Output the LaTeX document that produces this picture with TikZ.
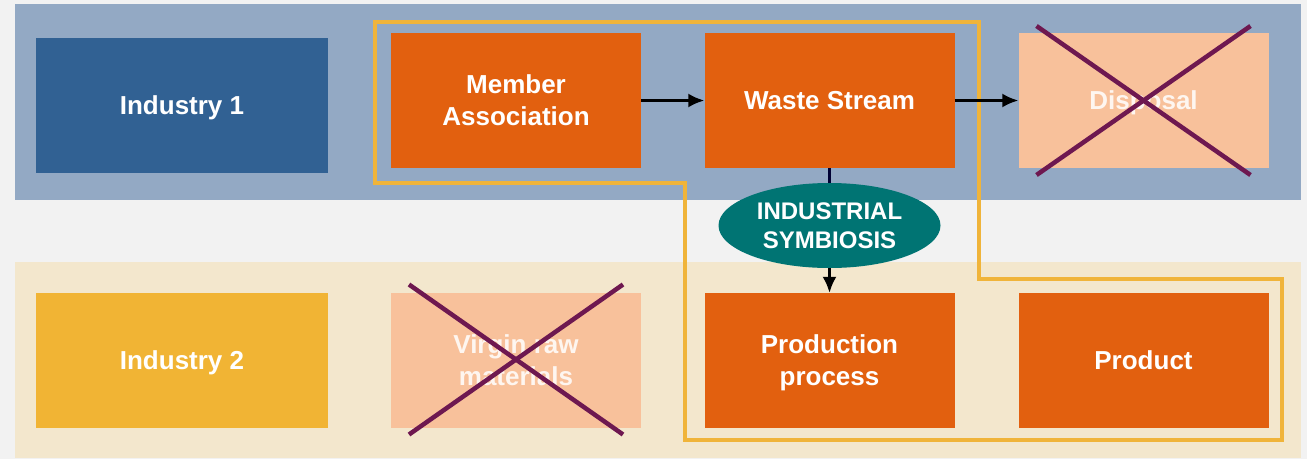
\documentclass[tikz,border=0pt]{standalone}
\usepackage{fontspec}
\setmainfont{Liberation Sans}
\usetikzlibrary{shapes.geometric,arrows.meta}

\definecolor{bandblue}{HTML}{93A9C4}
\definecolor{bandcream}{HTML}{F3E7CD}
\definecolor{indblue}{HTML}{316193}
\definecolor{indyellow}{HTML}{F1B434}
\definecolor{procorange}{HTML}{E2600F}
\definecolor{lostpeach}{HTML}{F8C19B}
\definecolor{symteal}{HTML}{007473}
\definecolor{loopyellow}{HTML}{F0B43A}
\definecolor{crossplum}{HTML}{6E1850}

\tikzset{
  box/.style={inner sep=0pt, minimum width=250pt, minimum height=135pt, text=white,
    text depth=0pt, align=center, font=\fontsize{26}{32}\selectfont\bfseries},
  flow/.style={line width=2.5pt, -{Latex[length=16pt,width=14pt]}},
  cross/.style={crossplum, line width=4.5pt}
}

\begin{document}
\begin{tikzpicture}[x=1pt,y=-1pt]
  \useasboundingbox[fill=black!5] (0,0) rectangle (1307,459);
  % bands
  \fill[bandblue] (15,4) rectangle (1301,200);
  \fill[bandcream] (15,262) rectangle (1301,458);
  % top row
  \node[box, fill=indblue, minimum width=292pt] (ind1) at (182,105.5) {Industry 1};
  \node[box, fill=procorange] (mem) at (516,100.5) {Member\\Association};
  \node[box, fill=procorange] (ws) at (829.5,100.5) {Waste Stream};
  \node[box, fill=lostpeach, text=white!85!lostpeach] (dis) at (1143.5,100.5) {Disposal};
  % bottom row
  \node[box, fill=indyellow, minimum width=292pt] (ind2) at (182,360.5) {Industry 2};
  \node[box, fill=lostpeach, text=white!85!lostpeach] (vir) at (516,360.5) {Virgin raw\\materials};
  \node[box, fill=procorange] (prod) at (829.5,360.5) {Production\\process};
  \node[box, fill=procorange] (pdt) at (1143.5,360.5) {Product};
  % symbiosis
  \node[ellipse, fill=symteal, inner sep=0pt, minimum width=222pt, minimum height=85pt,
    text=white, align=center, font=\fontsize{24}{29}\selectfont\bfseries]
    (sym) at (829.5,225.5) {INDUSTRIAL\\SYMBIOSIS};
  % member loop
  \draw[loopyellow, line width=4pt] (375,22) -- (979,22) -- (979,279) -- (1282,279)
    -- (1282,440) -- (685,440) -- (685,183) -- (375,183) -- cycle;
  % connectors
  \draw[flow] (mem) -- (ws);
  \draw[flow] (ws) -- (dis);
  \draw[line width=2.5pt, black!80!blue] (ws.south) -- (sym.north);
  \draw[flow] (sym.south) -- (prod.north);
  % crossed out
  \draw[cross] ([shift={(-107,-74.5)}]dis.center) -- ([shift={(107,74.5)}]dis.center);
  \draw[cross] ([shift={(-107,74.5)}]dis.center) -- ([shift={(107,-74.5)}]dis.center);
  \draw[cross] ([shift={(-107,-76)}]vir.center) -- ([shift={(107,74)}]vir.center);
  \draw[cross] ([shift={(-107,74)}]vir.center) -- ([shift={(107,-76)}]vir.center);
\end{tikzpicture}
\end{document}
